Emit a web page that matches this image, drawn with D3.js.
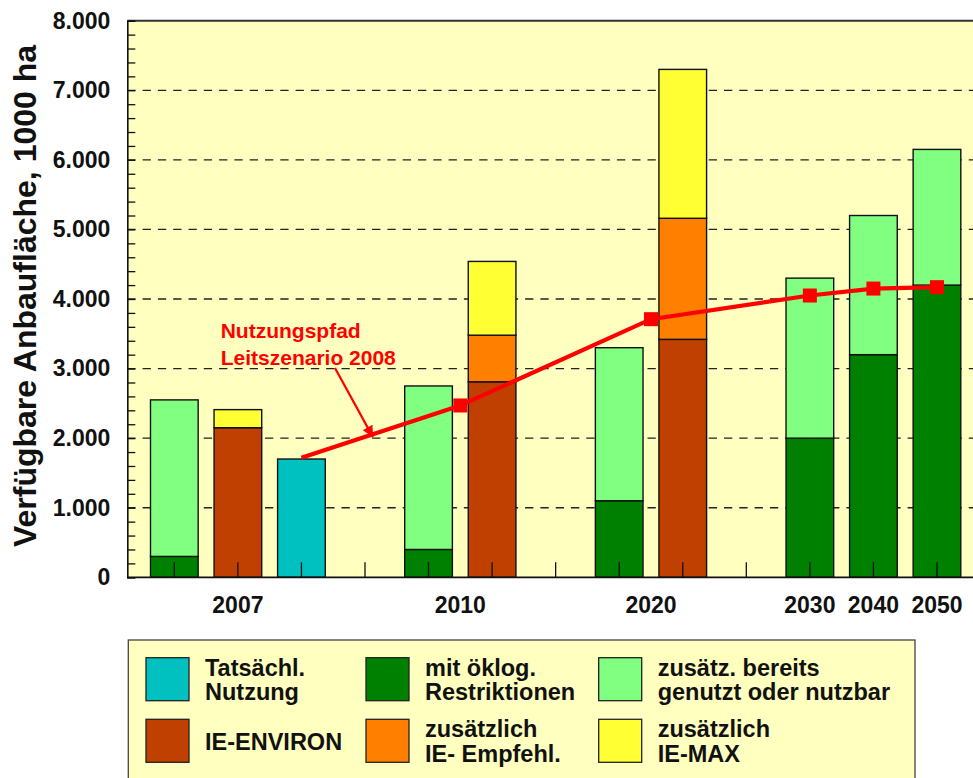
<!DOCTYPE html>
<html><head><meta charset="utf-8">
<script src="https://cdn.jsdelivr.net/npm/d3@7"></script>
<style>
body{margin:0;background:#fff}
svg{display:block}
text{font-family:"Liberation Sans",Arial,Helvetica,sans-serif;font-weight:bold}
</style>
</head><body>
<svg id="chart" width="973" height="778"></svg>
<script>
// ---------- DATA ----------
const slots = ["2007a","2007b","2007c","gap1","2010a","2010b","gap2","2020a","2020b","gap3","2030","2040","2050"];
const yearLabels = ["2007","2010","2020","2030","2040","2050"];
const yearSlots = [["2007a","2007b","2007c"],["2010a","2010b"],["2020a","2020b"],["2030"],["2040"],["2050"]];

const seriesKeys = ["tats","oeko","env","bereits","empf","max"];
const seriesLabels = [["Tatsächl.","Nutzung"],["mit öklog.","Restriktionen"],["IE-ENVIRON"],["zusätz. bereits","genutzt oder nutzbar"],["zusätzlich","IE- Empfehl."],["zusätzlich","IE-MAX"]];
const seriesColors = ["#00C0C0","#008000","#BF4000","#80FF80","#FF8000","#FFFF33"];

const tatsaechlNutzung   = [0,0,1700,0,0,0,0,0,0,0,0,0,0];
const oekoRestriktionen  = [300,0,0,0,400,0,0,1100,0,0,2000,3200,4200];
const ieEnviron          = [0,2150,0,0,0,2810,0,0,3420,0,0,0,0];
const zusaetzBereits     = [2250,0,0,0,2350,0,0,2200,0,0,2300,2000,1950];
const zusaetzEmpfehl     = [0,0,0,0,0,670,0,0,1740,0,0,0,0];
const zusaetzMax         = [0,260,0,0,0,1060,0,0,2140,0,0,0,0];
const seriesValues = [tatsaechlNutzung, oekoRestriktionen, ieEnviron, zusaetzBereits, zusaetzEmpfehl, zusaetzMax];

const yTicks = [0,1000,2000,3000,4000,5000,6000,7000,8000];
const yTickLabels = ["0","1.000","2.000","3.000","4.000","5.000","6.000","7.000","8.000"];

// Nutzungspfad Leitszenario 2008: start at actual usage bar, then per year
const pathAt = ["2007c","2010","2020","2030","2040","2050"];
const pathValues = [1720,2470,3710,4050,4150,4170];

const yTitle = "Verfügbare Anbaufläche, 1000 ha";
const annotation = ["Nutzungspfad","Leitszenario 2008"];

// ---------- LAYOUT ----------
const svg = d3.select("#chart");
const X0 = 127.3, Y0 = 577.3, YT = 20.7, XR = 973;
const x = d3.scaleBand().domain(slots).range([X0, 984]).paddingInner(0.25).paddingOuter(0.365);
const y = d3.scaleLinear().domain([0,8000]).range([Y0, YT]);
const cx = s => x(s) + x.bandwidth()/2;
const yearX = yearSlots.map(a => d3.mean(a, cx));
const xOf = k => { const i = yearLabels.indexOf(k); return i >= 0 && slots.indexOf(k) < 0 ? yearX[i] : (slots.indexOf(k) >= 0 ? cx(k) : yearX[i]); };

// background
svg.append("rect").attr("x",X0).attr("y",YT).attr("width",XR-X0).attr("height",Y0-YT).attr("fill","#FFFFC0");

// gridlines
svg.append("g").selectAll("line").data(yTicks.filter(v=>v>0 && v<8000)).join("line")
  .attr("x1",X0).attr("x2",XR).attr("y1",d=>y(d)).attr("y2",d=>y(d))
  .attr("stroke","#222").attr("stroke-width",1.3).attr("stroke-dasharray","8.3,7");

// stacked bars
const table = slots.map((s,i) => { const o = {slot:s}; seriesKeys.forEach((k,j)=>o[k]=seriesValues[j][i]); return o; });
const stack = d3.stack().keys(seriesKeys)(table);
svg.append("g").selectAll("g").data(stack).join("g")
  .attr("fill",(d,i)=>seriesColors[i])
  .selectAll("rect").data(d=>d.filter(p=>p[1]-p[0]>0)).join("rect")
  .attr("x",d=>x(d.data.slot)).attr("width",x.bandwidth())
  .attr("y",d=>y(d[1])).attr("height",d=>y(d[0])-y(d[1]))
  .attr("stroke","#111").attr("stroke-width",1.4);

// top frame
svg.append("line").attr("x1",X0).attr("x2",XR).attr("y1",YT).attr("y2",YT).attr("stroke","#333").attr("stroke-width",2);

// left axis ticks (inward)
const yAxisTicks = svg.append("g").attr("transform",`translate(${X0},0)`)
  .call(d3.axisRight(y).tickValues(d3.range(0,8001,200)).tickSize(8).tickFormat(""));
yAxisTicks.select(".domain").attr("stroke","#111").attr("stroke-width",1.6);
yAxisTicks.selectAll(".tick line").attr("stroke","#111").attr("stroke-width",1.3);

// left axis labels
const yLab = svg.append("g").attr("transform",`translate(${X0},0)`)
  .call(d3.axisLeft(y).tickValues(yTicks).tickSize(0).tickPadding(17).tickFormat((d,i)=>yTickLabels[i]));
yLab.select(".domain").remove();
yLab.selectAll("text").attr("font-size",23).attr("fill","#111").attr("font-family",null).attr("font-weight","bold");

// bottom axis with inward ticks
const xAx = svg.append("g").attr("transform",`translate(0,${Y0})`)
  .call(d3.axisTop(x).tickSize(15).tickFormat(""));
xAx.select(".domain").attr("d",`M${X0},0H${XR}`).attr("stroke","#111").attr("stroke-width",1.8);
xAx.selectAll(".tick line").attr("stroke","#111").attr("stroke-width",1.3);

// year labels
svg.append("g").selectAll("text").data(yearLabels).join("text")
  .attr("x",(d,i)=>yearX[i]).attr("y",612.7).attr("text-anchor","middle")
  .attr("font-size",23).attr("fill","#111").text(d=>d);

// y title
svg.append("text").attr("transform","translate(36,296) rotate(-90)").attr("text-anchor","middle")
  .attr("font-size",32).attr("fill","#111").text(yTitle);

// red path
const pts = pathAt.map((k,i)=>[xOf(k), y(pathValues[i])]);
svg.append("path").attr("d",d3.line()(pts)).attr("fill","none").attr("stroke","#FF0000").attr("stroke-width",4.2);
svg.append("g").selectAll("rect").data(pts.slice(1)).join("rect")
  .attr("x",d=>d[0]-7).attr("y",d=>d[1]-7).attr("width",14).attr("height",14).attr("fill","#FF0000");

// annotation
svg.append("defs").append("marker").attr("id","arr").attr("viewBox","0 0 10 10").attr("refX",10).attr("refY",5)
  .attr("markerWidth",14).attr("markerHeight",11).attr("markerUnits","userSpaceOnUse").attr("orient","auto")
  .append("path").attr("d","M0,0L10,5L0,10Z").attr("fill","#FF0000");
const t = 0.45;
const tip = [pts[0][0]+(pts[1][0]-pts[0][0])*t, pts[0][1]+(pts[1][1]-pts[0][1])*t + 3];
svg.append("line").attr("x1",335).attr("y1",368).attr("x2",tip[0]).attr("y2",tip[1])
  .attr("stroke","#FF0000").attr("stroke-width",2.2).attr("marker-end","url(#arr)");
svg.append("g").selectAll("text").data(annotation).join("text")
  .attr("x",220.7).attr("y",(d,i)=>337.7+i*27.3).attr("font-size",21).attr("fill","#FF0000").text(d=>d);

// legend
const leg = svg.append("g");
leg.append("rect").attr("x",128.3).attr("y",640).attr("width",915-128.3).attr("height",170)
  .attr("fill","#FFFFC0").attr("stroke","#444").attr("stroke-width",1.3);
const colX = [146,366,598.7], rowY = [657.7,719.3];
const legOrder = [0,1,3,2,4,5];
legOrder.forEach((si,pos)=>{
  const cxl = colX[pos%3], ry = rowY[Math.floor(pos/3)];
  leg.append("rect").attr("x",cxl).attr("y",ry).attr("width",43).attr("height",43)
    .attr("fill",seriesColors[si]).attr("stroke","#222").attr("stroke-width",1.3);
  const lines = seriesLabels[si];
  const base = lines.length === 1 ? [31] : [18,42.5];
  lines.forEach((ln,j)=>{
    leg.append("text").attr("x",cxl+59).attr("y",ry+base[j]).attr("font-size",23.5).attr("fill","#111").text(ln);
  });
});
</script>
</body></html>
